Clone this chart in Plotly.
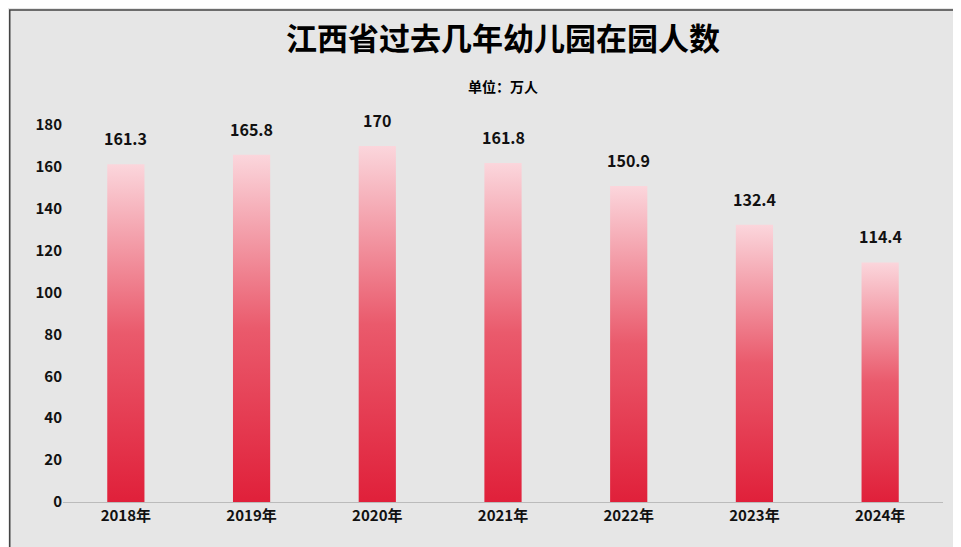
import plotly.graph_objects as go

years = ["2018年", "2019年", "2020年", "2021年", "2022年", "2023年", "2024年"]
counts = [161.3, 165.8, 170, 161.8, 150.9, 132.4, 114.4]

half = 0.148
fig = go.Figure()
for i, v in enumerate(counts):
    fig.add_trace(go.Scatter(
        x=[i - half, i - half, i + half, i + half, i - half],
        y=[0, v, v, 0, 0],
        mode="lines", line=dict(width=0), fill="toself",
        fillgradient=dict(type="vertical",
                          colorscale=[[0, "#e0203a"], [0.5, "#ea5a6c"], [1, "#fbd6dc"]]),
        hoverinfo="skip", showlegend=False))

annots = [dict(x=i, y=v, text=f"<b>{v:g}</b>", showarrow=False, yanchor="bottom", yshift=12,
               font=dict(size=16, color="#111")) for i, v in enumerate(counts)]
annots += [
    dict(xref="paper", yref="paper", x=0.5, y=1.3, yanchor="top", showarrow=False,
         text="<b>江西省过去几年幼儿园在园人数</b>", font=dict(size=31, color="#000")),
    dict(xref="paper", yref="paper", x=0.5, y=1.135, yanchor="top", showarrow=False,
         text="<b>单位：万人</b>", font=dict(size=14, color="#000")),
]

fig.update_layout(
    width=961, height=547,
    paper_bgcolor="#e6e6e6", plot_bgcolor="#e6e6e6",
    margin=dict(l=55, r=26, t=117, b=53, autoexpand=False),
    font=dict(family="Noto Sans CJK SC", color="#111"),
    annotations=annots,
    xaxis=dict(range=[-0.5, 6.5], tickvals=list(range(len(years))), ticktext=years,
               showgrid=False, zeroline=False, showline=True, linecolor="#bbbbbb",
               tickfont=dict(size=15, weight="bold"), automargin=False),
    yaxis=dict(range=[0, 180], dtick=20, showgrid=False, zeroline=False,
               tickfont=dict(size=15, weight="bold"), automargin=False),
    shapes=[dict(type="rect", xref="paper", yref="paper", x0=-0.0605, x1=1.026,
                 y0=-0.138, y1=1.305, line=dict(color="#444", width=1.5))],
)
fig.write_html("out.html")
